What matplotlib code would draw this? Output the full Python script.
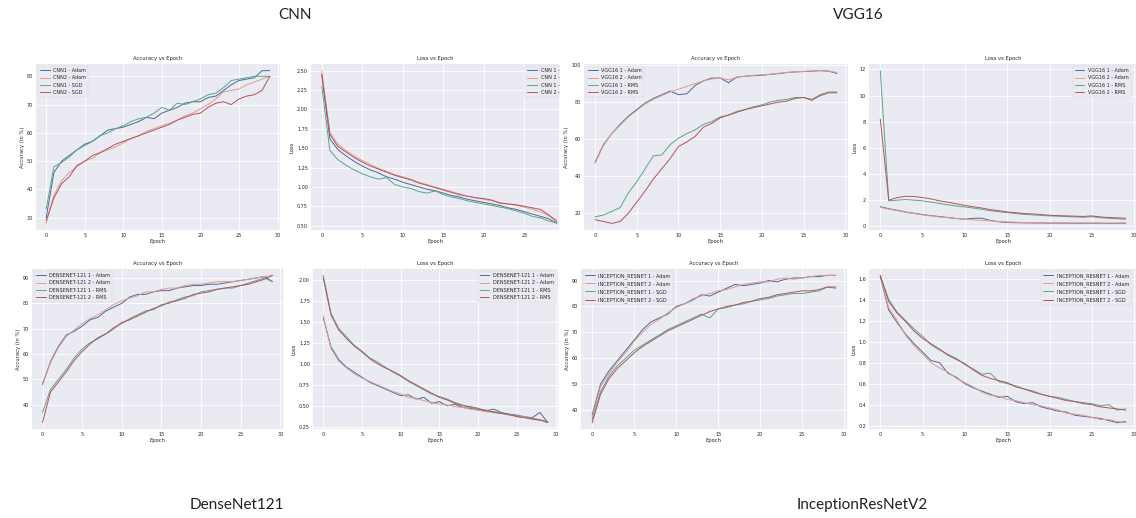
import matplotlib
matplotlib.use("Agg")
import matplotlib.pyplot as plt
import seaborn as sns
from matplotlib.ticker import MultipleLocator

sns.set_theme(style="darkgrid")
plt.rcParams['font.family'] = ['DejaVu Sans']
plt.rcParams['grid.linewidth'] = 0.6

epochs = list(range(30))

# ---- CNN ----
cnn_labels = ["CNN1 - Adam", "CNN2 - Adam", "CNN1 - SGD", "CNN2 - SGD"]
cnn_loss_labels = ["CNN 1 - Adam", "CNN 2 - Adam", "CNN 1 - SGD", "CNN 2 - SGD"]
cnn_acc_1_adam = [30, 46, 50, 52, 54, 56, 57, 59, 61, 61.5, 62, 63, 64, 65.5, 65, 67, 68, 69, 70.5, 71,
                  71, 72.5, 73, 75, 77, 78.5, 79, 79.5, 82, 82]
cnn_acc_2_adam = [28, 38, 43, 46, 48, 50, 51, 53, 54, 55, 56.5, 58, 59, 60.5, 61.5, 62.5, 63.5, 64.5, 66, 67,
                  68.5, 70, 72, 74.5, 75, 75.5, 77, 78, 79, 80]
cnn_acc_1_sgd = [33, 48, 49.5, 51.5, 54, 55.5, 57, 59, 60, 61.5, 62.5, 64, 65, 65.5, 67, 69, 68, 70.5, 70, 71,
                 72, 73.5, 74, 76, 78.5, 79, 79.5, 80, 80, 80]
cnn_acc_2_sgd = [29, 37, 42, 44.5, 48.5, 50, 52, 53, 54.5, 56, 57, 58, 59, 60, 61, 62, 63, 64.5, 65.5, 66.5,
                 67, 69, 70.5, 71, 70, 72, 73, 73.5, 75, 80]
cnn_loss_1_adam = [2.45, 1.62, 1.48, 1.40, 1.33, 1.27, 1.22, 1.18, 1.13, 1.10, 1.06, 1.03, 1.00, 0.97, 0.95,
                   0.92, 0.89, 0.87, 0.84, 0.82, 0.80, 0.78, 0.76, 0.73, 0.71, 0.68, 0.65, 0.62, 0.59, 0.53]
cnn_loss_2_adam = [2.50, 1.70, 1.55, 1.47, 1.40, 1.34, 1.29, 1.24, 1.20, 1.16, 1.13, 1.10, 1.06, 1.03, 1.00,
                   0.97, 0.94, 0.91, 0.88, 0.86, 0.84, 0.82, 0.80, 0.78, 0.76, 0.74, 0.71, 0.68, 0.63, 0.57]
cnn_loss_1_sgd = [2.30, 1.47, 1.35, 1.28, 1.22, 1.17, 1.13, 1.10, 1.12, 1.03, 1.00, 0.98, 0.94, 0.92, 0.95,
                  0.90, 0.87, 0.85, 0.82, 0.80, 0.78, 0.76, 0.74, 0.72, 0.69, 0.66, 0.62, 0.60, 0.56, 0.54]
cnn_loss_2_sgd = [2.45, 1.68, 1.52, 1.45, 1.38, 1.32, 1.27, 1.23, 1.19, 1.15, 1.12, 1.09, 1.05, 1.02, 0.99,
                  0.96, 0.93, 0.90, 0.88, 0.86, 0.85, 0.83, 0.79, 0.78, 0.77, 0.75, 0.73, 0.71, 0.64, 0.55]

# ---- VGG16 ----
vgg_labels = ["VGG16 1 - Adam", "VGG16 2 - Adam", "VGG16 1 - RMS", "VGG16 2 - RMS"]
vgg_acc_1_adam = [47.5, 57, 63, 68, 72.5, 76, 79.5, 82, 84, 86, 84, 84.5, 89, 91.5, 93, 93, 90.5, 93.5, 94, 94.3,
                  94.5, 95, 95.4, 96, 96.3, 96.5, 96.7, 97, 96.7, 95.5]
vgg_acc_2_adam = [47, 56.5, 63, 67.5, 72, 75.5, 79, 81.5, 83.5, 85.5, 87, 88.5, 90, 91.5, 92.5, 93, 92, 93.5, 94,
                  94.5, 94.8, 95, 95.6, 96, 96.4, 96.6, 96.8, 97, 96.8, 96]
vgg_acc_1_rms = [18, 19, 21, 23, 31, 37, 44, 51, 51.5, 57, 60.5, 63, 65, 68, 69.5, 72, 73, 75, 76, 77.5,
                 78.5, 80, 81, 81.5, 82.5, 82.5, 81.5, 84, 85.5, 85.5]
vgg_acc_2_rms = [16.5, 15.5, 14.5, 15.5, 20, 26, 32, 38.5, 44, 49.5, 56, 58.5, 61.5, 66.5, 68.5, 71.5, 73, 74.5,
                 76, 77, 78, 79, 80, 80.5, 82, 82.5, 81, 83.5, 85, 85]
vgg_loss_1_adam = [1.5, 1.35, 1.23, 1.1, 1.0, 0.9, 0.82, 0.75, 0.68, 0.6, 0.55, 0.62, 0.63, 0.45, 0.35, 0.3,
                   0.28, 0.27, 0.26, 0.26, 0.25, 0.25, 0.25, 0.24, 0.24, 0.24, 0.24, 0.23, 0.23, 0.25]
vgg_loss_2_adam = [1.45, 1.32, 1.2, 1.08, 0.98, 0.88, 0.8, 0.72, 0.66, 0.6, 0.54, 0.5, 0.46, 0.42, 0.38, 0.34,
                   0.32, 0.3, 0.29, 0.28, 0.28, 0.27, 0.27, 0.26, 0.26, 0.26, 0.25, 0.25, 0.25, 0.26]
vgg_loss_1_rms = [11.9, 1.95, 2.0, 2.05, 2.0, 1.95, 1.85, 1.75, 1.65, 1.55, 1.48, 1.4, 1.3, 1.2, 1.12, 1.05,
                  0.98, 0.92, 0.88, 0.84, 0.8, 0.78, 0.75, 0.72, 0.7, 0.74, 0.66, 0.62, 0.58, 0.55]
vgg_loss_2_rms = [8.2, 2.0, 2.2, 2.3, 2.28, 2.2, 2.1, 1.95, 1.85, 1.72, 1.6, 1.5, 1.4, 1.28, 1.2, 1.1,
                  1.05, 0.98, 0.95, 0.9, 0.85, 0.82, 0.8, 0.78, 0.76, 0.8, 0.72, 0.68, 0.65, 0.62]

# ---- DenseNet121 ----
dn_labels = ["DENSENET-121 1 - Adam", "DENSENET-121 2 - Adam", "DENSENET-121 1 - RMS", "DENSENET-121 2 - RMS"]
dn_acc_1_adam = [48, 57, 63, 67.5, 69, 71, 73.5, 74.5, 77, 78.5, 80, 82.5, 83.5, 83.5, 84.5, 85, 85, 86, 86.5,
                 87, 87, 87.5, 87.5, 88, 88.5, 89, 89.5, 90, 90.5, 88.5]
dn_acc_2_adam = [48.5, 56.5, 62.5, 67, 69.5, 72, 74, 75.5, 77.5, 79.5, 81, 82, 83, 84.5, 84.5, 85.5, 86, 86, 87,
                 87.5, 87.5, 88, 88.5, 88.5, 88.5, 89, 89.5, 90, 90.5, 91]
dn_acc_1_rms = [37, 46, 50, 54, 58.5, 62, 64.5, 66, 68, 70.5, 72, 74, 75.5, 77, 77.5, 79.5, 80, 81.5, 82.5,
                83, 84.5, 85, 85.5, 86, 86, 87, 88, 89, 90, 88.5]
dn_acc_2_rms = [33, 45, 49, 53, 57.5, 61, 64, 66.5, 68, 70, 72.5, 73.5, 75, 76.5, 78, 79, 80.5, 81, 82, 83.5,
                84, 84.5, 85.5, 86, 86.5, 87, 87.5, 88.5, 89.5, 91]
dn_loss_1_adam = [1.55, 1.20, 1.05, 0.96, 0.90, 0.84, 0.78, 0.74, 0.70, 0.66, 0.62, 0.63, 0.58, 0.60, 0.53,
                  0.55, 0.50, 0.52, 0.48, 0.47, 0.45, 0.44, 0.46, 0.42, 0.40, 0.39, 0.37, 0.36, 0.42, 0.30]
dn_loss_2_adam = [1.57, 1.18, 1.03, 0.95, 0.88, 0.83, 0.79, 0.75, 0.71, 0.67, 0.64, 0.60, 0.59, 0.56, 0.54,
                  0.52, 0.51, 0.49, 0.48, 0.46, 0.45, 0.43, 0.42, 0.41, 0.40, 0.38, 0.37, 0.35, 0.34, 0.30]
dn_loss_1_rms = [2.05, 1.60, 1.42, 1.32, 1.22, 1.15, 1.07, 1.02, 0.96, 0.90, 0.85, 0.79, 0.74, 0.69, 0.64,
                 0.61, 0.58, 0.54, 0.51, 0.48, 0.46, 0.45, 0.42, 0.41, 0.39, 0.38, 0.36, 0.35, 0.33, 0.30]
dn_loss_2_rms = [2.02, 1.58, 1.40, 1.30, 1.21, 1.14, 1.06, 1.00, 0.95, 0.91, 0.86, 0.80, 0.75, 0.70, 0.65,
                 0.60, 0.57, 0.53, 0.50, 0.49, 0.47, 0.44, 0.43, 0.41, 0.40, 0.37, 0.36, 0.34, 0.33, 0.31]

# ---- InceptionResNetV2 ----
inc_labels = ["INCEPTION_RESNET 1 - Adam", "INCEPTION_RESNET 2 - Adam",
              "INCEPTION_RESNET 1 - SGD", "INCEPTION_RESNET 2 - SGD"]
inc_acc_1_adam = [38, 50, 55, 59, 63, 67, 71, 74, 75.5, 77, 80, 81, 82.5, 84.5, 84, 85.5, 87, 88.5, 88, 88.5,
                  89, 90, 89.5, 90.5, 91, 91, 91.5, 91.5, 92, 92]
inc_acc_2_adam = [37, 49, 54, 58.5, 62, 66.5, 70, 73, 75, 77.5, 79.5, 81, 83, 84, 85, 86, 86.5, 87.5, 88.5, 89,
                  89.5, 89.5, 90.5, 91, 90.5, 91, 91.5, 92, 92, 92]
inc_acc_1_sgd = [36, 47, 53, 57, 60, 63, 65, 67, 69, 71, 72.5, 74, 75.5, 77, 75.5, 79, 79.5, 80.5, 81, 82,
                 82.5, 83, 84, 84.5, 85, 85, 85.5, 86, 87.5, 87]
inc_acc_2_sgd = [35, 46, 52, 56, 59, 62, 64.5, 66.5, 68.5, 70.5, 72, 73.5, 75, 76.5, 78, 79, 80, 80.5, 81.5,
                 82, 83, 83.5, 84.5, 85, 85.5, 86, 86, 86.5, 87.5, 87.5]
inc_loss_1_adam = [1.62, 1.30, 1.18, 1.07, 0.98, 0.90, 0.82, 0.80, 0.70, 0.66, 0.60, 0.56, 0.53, 0.50, 0.47,
                   0.48, 0.43, 0.41, 0.42, 0.38, 0.36, 0.34, 0.33, 0.30, 0.29, 0.28, 0.27, 0.25, 0.23, 0.24]
inc_loss_2_adam = [1.62, 1.32, 1.20, 1.06, 0.96, 0.88, 0.80, 0.75, 0.71, 0.65, 0.61, 0.57, 0.52, 0.49, 0.48,
                   0.45, 0.44, 0.42, 0.40, 0.39, 0.37, 0.35, 0.32, 0.31, 0.30, 0.28, 0.26, 0.26, 0.24, 0.23]
inc_loss_1_sgd = [1.62, 1.40, 1.28, 1.20, 1.12, 1.05, 0.97, 0.92, 0.88, 0.84, 0.78, 0.74, 0.69, 0.70, 0.62,
                  0.60, 0.58, 0.55, 0.52, 0.50, 0.48, 0.47, 0.45, 0.43, 0.42, 0.41, 0.39, 0.40, 0.35, 0.36]
inc_loss_2_sgd = [1.63, 1.38, 1.27, 1.19, 1.10, 1.03, 0.98, 0.93, 0.87, 0.83, 0.79, 0.73, 0.68, 0.65, 0.63,
                  0.61, 0.57, 0.55, 0.53, 0.50, 0.48, 0.46, 0.44, 0.43, 0.41, 0.40, 0.38, 0.37, 0.36, 0.35]

colors = ['#4c6a9a', '#e39a8a', '#5aa58a', '#b5525a']

W, H = 1136, 518
fig = plt.figure(figsize=(W / 100, H / 100), dpi=100)


def panel(px, title, ylabel, series, labels, ystep, leg_loc, leg_x=None, xmax=None, clip_leg=False):
    # px = (left, top, right, bottom) in pixels
    l, t, r, b = px
    ax = fig.add_axes([l / W, 1 - b / H, (r - l) / W, (b - t) / H])
    for s, lab, c in zip(series, labels, colors):
        ax.plot(epochs, s, color=c, lw=0.7, label=lab)
    ax.set_title(title, fontsize=3.8, pad=2)
    ax.set_xlabel("Epoch", fontsize=3.8, labelpad=1)
    ax.set_ylabel(ylabel, fontsize=3.8, labelpad=1.5)
    ax.xaxis.set_major_locator(MultipleLocator(5))
    ax.yaxis.set_major_locator(MultipleLocator(ystep))
    ax.tick_params(labelsize=3.5, pad=1.5, length=0)
    if xmax is not None:
        ax.set_xlim(-1.45, xmax)
    if leg_x is None:
        leg = ax.legend(loc=leg_loc, fontsize=3.5, borderaxespad=0.6)
    else:
        leg = ax.legend(loc=leg_loc, bbox_to_anchor=(leg_x, 1.0), fontsize=3.5, borderaxespad=0.6)
    if clip_leg:
        # the original panel was cropped through its legend
        for a in [leg.legendPatch] + leg.get_texts() + list(leg.legend_handles):
            a.set_clip_box(ax.bbox)
            a.set_clip_on(True)
    leg.get_frame().set_linewidth(0.3)
    return ax


panel((35, 63, 281, 231), "Accuracy vs Epoch", "Accuracy (in %)",
      [cnn_acc_1_adam, cnn_acc_2_adam, cnn_acc_1_sgd, cnn_acc_2_sgd], cnn_labels, 10, 'upper left')
panel((310, 63, 560, 231), "Loss vs Epoch", "Loss",
      [cnn_loss_1_adam, cnn_loss_2_adam, cnn_loss_1_sgd, cnn_loss_2_sgd], cnn_loss_labels, 0.25,
      'upper left', leg_x=0.85, xmax=29.4, clip_leg=True)
panel((583, 63, 849, 231), "Accuracy vs Epoch", "Accuracy (in %)",
      [vgg_acc_1_adam, vgg_acc_2_adam, vgg_acc_1_rms, vgg_acc_2_rms], vgg_labels, 20, 'upper left')
panel((868, 63, 1138, 231), "Loss vs Epoch", "Loss",
      [vgg_loss_1_adam, vgg_loss_2_adam, vgg_loss_1_rms, vgg_loss_2_rms], vgg_labels, 2,
      'upper right', leg_x=0.985)

panel((31, 268, 284, 430), "Accuracy vs Epoch", "Accuracy (in %)",
      [dn_acc_1_adam, dn_acc_2_adam, dn_acc_1_rms, dn_acc_2_rms], dn_labels, 10, 'upper left')
panel((312, 268, 559, 430), "Loss vs Epoch", "Loss",
      [dn_loss_1_adam, dn_loss_2_adam, dn_loss_1_rms, dn_loss_2_rms], dn_labels, 0.25, 'upper right')
panel((580, 268, 848, 430), "Accuracy vs Epoch", "Accuracy (in %)",
      [inc_acc_1_adam, inc_acc_2_adam, inc_acc_1_sgd, inc_acc_2_sgd], inc_labels, 10, 'upper left')
panel((868, 268, 1138, 430), "Loss vs Epoch", "Loss",
      [inc_loss_1_adam, inc_loss_2_adam, inc_loss_1_sgd, inc_loss_2_sgd], inc_labels, 0.2,
      'upper right', leg_x=0.985)

hdr = dict(ha='center', va='center', fontsize=11, family=['Lato', 'DejaVu Sans'], color='#222222')
fig.text(295 / W, 1 - 15 / H, "CNN", **hdr)
fig.text(858 / W, 1 - 15 / H, "VGG16", **hdr)
fig.text(237 / W, 1 - 505 / H, "DenseNet121", **hdr)
fig.text(862 / W, 1 - 505 / H, "InceptionResNetV2", **hdr)

fig.savefig("out.png", dpi=100)
